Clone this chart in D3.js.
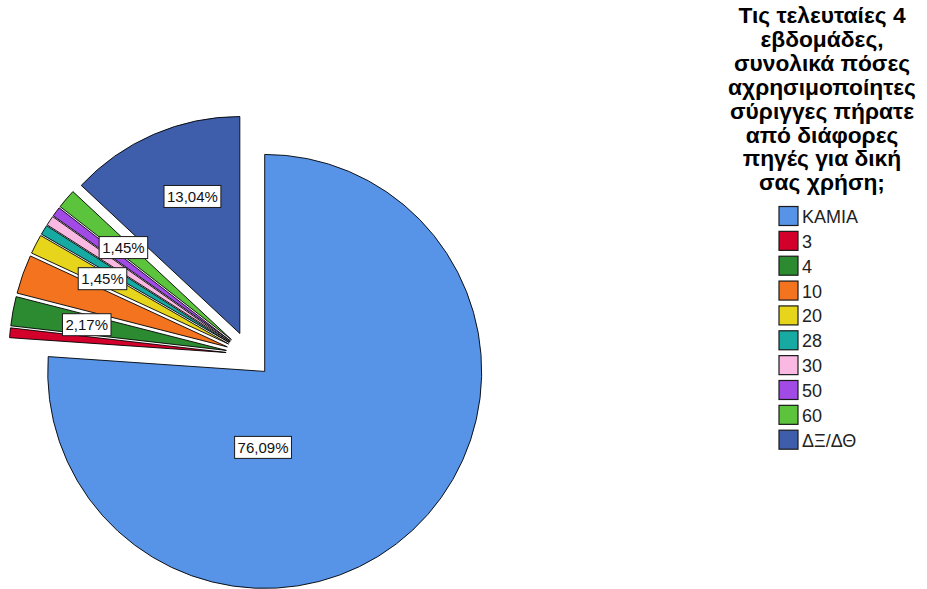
<!DOCTYPE html>
<html>
<head>
<meta charset="utf-8">
<script src="https://cdn.jsdelivr.net/npm/d3@7"></script>
<style>
  html, body { margin: 0; padding: 0; background: #ffffff; }
  svg { display: block; }
</style>
</head>
<body>
<script>
// ---- data ----
const categories = ["ΚΑΜΙΑ", "3", "4", "10", "20", "28", "30", "50", "60", "ΔΞ/ΔΘ"];
const counts = [105, 1, 3, 4, 2, 1, 1, 1, 2, 18];
const titleLines = [
  "Τις τελευταίες 4",
  "εβδομάδες,",
  "συνολικά πόσες",
  "αχρησιμοποίητες",
  "σύριγγες πήρατε",
  "από διάφορες",
  "πηγές για δική",
  "σας χρήση;"
];
const showLabel = [true, false, true, false, true, false, false, false, true, true];

// ---- style ----
const colors = ["#5793e6", "#d3002b", "#2c8a30", "#f4731f", "#e6d51a",
                "#16aaa3", "#f9b9e3", "#a24ae6", "#5cc33d", "#3e5dab"];
// label placement relative to slice (angle shift in degrees, radius)
const labelAngleShift = [44.3, 0, 0, 0, 0, 0, 0, 0, 0, 4.4];
const labelRadius = [76, 142, 142, 142, 142, 142, 142, 142, 142, 145];

const W = 927, H = 589;
const cx = 249, cy = 354.6, R = 217, explode = 23;

const svg = d3.select("body").append("svg")
  .attr("width", W).attr("height", H);

const total = d3.sum(counts);
const pie = d3.pie().sort(null).value(d => d)(counts);
const arc = d3.arc().innerRadius(0).outerRadius(R);
const fmt = v => (v / total * 100).toFixed(2).replace(".", ",") + "%";

const g = svg.append("g").attr("transform", `translate(${cx},${cy})`);

const slices = g.selectAll("g.slice").data(pie).join("g")
  .attr("class", "slice")
  .attr("transform", d => {
    const m = (d.startAngle + d.endAngle) / 2;
    return `translate(${Math.sin(m) * explode},${-Math.cos(m) * explode})`;
  });

slices.append("path")
  .attr("d", arc)
  .attr("fill", (d, i) => colors[i])
  .attr("stroke", "#000")
  .attr("stroke-width", 0.9)
  .attr("stroke-linejoin", "round");

// labels
const labelG = svg.append("g").attr("transform", `translate(${cx},${cy})`);
pie.forEach((d, i) => {
  if (!showLabel[i]) return;
  const m = (d.startAngle + d.endAngle) / 2;
  const ox = Math.sin(m) * explode, oy = -Math.cos(m) * explode;
  const a = m + labelAngleShift[i] * Math.PI / 180;
  const x = ox + Math.sin(a) * labelRadius[i];
  const y = oy - Math.cos(a) * labelRadius[i];
  const lg = labelG.append("g").attr("transform", `translate(${x},${y})`);
  const rect = lg.append("rect").attr("fill", "#fff").attr("stroke", "#1a1a1a").attr("stroke-width", 1);
  const t = lg.append("text")
    .attr("text-anchor", "middle")
    .attr("dominant-baseline", "central")
    .attr("font-family", "'Liberation Sans', Arial, sans-serif")
    .attr("font-size", 15)
    .attr("fill", "#111")
    .text(fmt(counts[i]));
  const w = t.node().getComputedTextLength();
  rect.attr("x", -w / 2 - 3).attr("y", -11).attr("width", w + 6).attr("height", 22);
});

// ---- legend ----
const titleX = 822;
const titleG = svg.append("g");
const titleText = titleG.selectAll("text").data(titleLines).join("text")
  .attr("x", titleX)
  .attr("y", (d, i) => 15 + i * 23.9)
  .attr("text-anchor", "middle")
  .attr("dominant-baseline", "central")
  .attr("font-family", "'Liberation Sans', Arial, sans-serif")
  .attr("font-weight", "bold")
  .attr("font-size", 20)
  .attr("fill", "#000")
  .text(d => d);
// fit longest title line to the reference width
const longest = titleText.filter(d => d === "αχρησιμοποίητες").node().getComputedTextLength();
titleText.attr("font-size", 20 * 188 / longest);

const legY = d3.scalePoint().domain(categories).range([216, 439.7]);
const leg = svg.append("g").selectAll("g").data(categories).join("g")
  .attr("transform", d => `translate(779,${legY(d)})`);
leg.append("rect")
  .attr("x", 0).attr("y", -9.5).attr("width", 19).attr("height", 19)
  .attr("fill", (d, i) => colors[i])
  .attr("stroke", "#1a1a1a").attr("stroke-width", 1.2);
leg.append("text")
  .attr("x", 23).attr("y", 1)
  .attr("dominant-baseline", "central")
  .attr("font-family", "'Liberation Sans', Arial, sans-serif")
  .attr("font-size", 18)
  .attr("fill", "#222")
  .text(d => d);
</script>
</body>
</html>
